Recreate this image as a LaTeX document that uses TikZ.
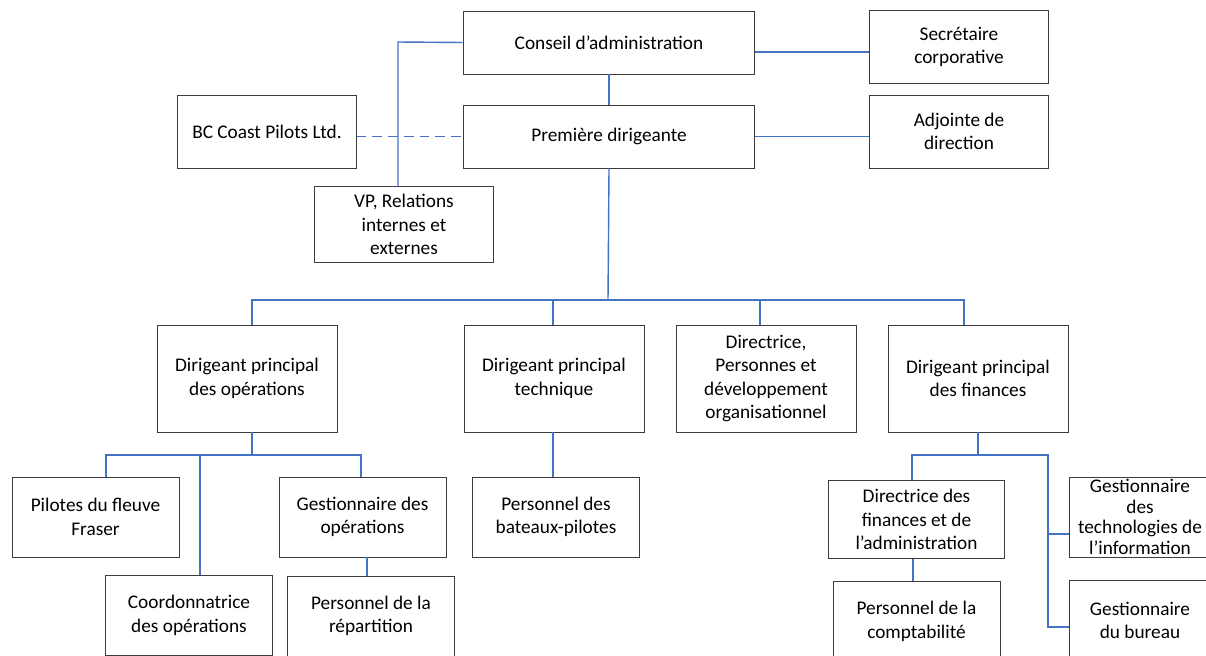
\documentclass[tikz,border=0pt]{standalone}
\usepackage{fontspec}
\setmainfont{Carlito}
\usetikzlibrary{positioning}

\definecolor{linkblue}{RGB}{68,114,196}
\definecolor{boxgray}{RGB}{60,60,60}

\tikzset{
  box/.style={draw=boxgray, line width=0.55pt, fill=white, align=center, inner sep=0pt,
              font=\fontsize{11}{13.4}\selectfont},
  topbox/.style={box, minimum width=166.4pt, minimum height=35.9pt},
  sidebox/.style={box, minimum width=101.5pt, minimum height=41.6pt},
  midbox/.style={box, minimum width=102.6pt, minimum height=61pt},
  lowbox/.style={box, minimum width=95.2pt, minimum height=45.6pt},
  link/.style={draw=linkblue, line width=0.8pt},
}

\begin{document}
\begin{tikzpicture}[x=0.57pt, y=-0.57pt]
  \useasboundingbox[fill=white] (0,0) rectangle (1206,655);

  % direction
  \node[topbox] (conseil) at (609,42.5) {Conseil d’administration};
  \node[topbox] (prem) at (609,136.5) {Première dirigeante};
  \node[sidebox] (secr) at (959,47) {Secrétaire\\corporative};
  \node[sidebox] (adj) at (959,131.5) {Adjointe de\\direction};
  \node[sidebox] (bcp) at (267,131.5) {BC Coast Pilots Ltd.};
  \node[sidebox, minimum height=42.8pt] (vp) at (404,224.5) {VP, Relations\\internes et\\externes};

  % dirigeants
  \node[midbox] (ops) at (247,378.5) {Dirigeant principal\\des opérations};
  \node[midbox] (tech) at (554,378.5) {Dirigeant principal\\technique};
  \node[midbox] (pdo) at (766,378.5) {Directrice,\\Personnes et\\développement\\organisationnel};
  \node[midbox] (fin) at (978,378.5) {Dirigeant principal\\des finances};

  % personnel
  \node[lowbox] (pilotes) at (95.5,517) {Pilotes du fleuve\\Fraser};
  \node[lowbox] (gestops) at (362.5,517) {Gestionnaire des\\opérations};
  \node[lowbox] (coord) at (189,615.5) {Coordonnatrice\\des opérations};
  \node[lowbox] (repart) at (371,616) {Personnel de la\\répartition};
  \node[lowbox] (bateaux) at (556,517) {Personnel des\\bateaux-pilotes};
  \node[lowbox, minimum width=99.8pt, minimum height=45pt] (dirfin) at (916.5,519.5)
       {Directrice des\\finances et de\\l’administration};
  \node[lowbox] (compta) at (916.5,621.5) {Personnel de la\\comptabilité};
  \node[lowbox, minimum width=80.9pt, font=\fontsize{11}{11.8}\selectfont] (gestti) at (1140,517)
       {Gestionnaire\\des\\technologies de\\l’information};
  \node[lowbox, minimum width=80.9pt] (bureau) at (1140,620.5) {Gestionnaire\\du bureau};

  % liens du haut
  \coordinate (vpknee) at (398,42);
  \coordinate (secrlink) at (755,52);
  \draw[link] (conseil.west) -- (vpknee) -- (vpknee |- vp.north);
  \draw[link] (conseil) -- (prem);
  \draw[link] (secrlink) -- (secrlink -| secr.west);
  \draw[link] (prem.east) -- (adj.west |- prem.east);
  \draw[link, dashed, dash pattern=on 5.5pt off 3.5pt] (bcp.east |- prem.west) -- (prem.west);

  % barre des dirigeants
  \coordinate (bus) at (608,300);
  \draw[link] (prem.south) -- (bus);
  \foreach \n/\x in {ops/252, tech/553, pdo/760, fin/964}{
    \coordinate (drop-\n) at (\x,300);
    \draw[link] (bus) -- (drop-\n) -- (drop-\n |- \n.north);
  }

  % operations
  \coordinate (opsbus) at (252,455);
  \draw[link] (opsbus |- ops.south) -- (opsbus);
  \foreach \n/\x in {pilotes/106, coord/200, gestops/361}{
    \coordinate (od-\n) at (\x,455);
    \draw[link] (opsbus) -- (od-\n) -- (od-\n |- \n.north);
  }
  \coordinate (repknee) at (367,500);
  \draw[link] (repknee |- gestops.south) -- (repknee |- repart.north);

  % technique
  \coordinate (techknee) at (553,450);
  \draw[link] (techknee |- tech.south) -- (techknee |- bateaux.north);

  % finances
  \coordinate (finbus) at (978,455);
  \coordinate (finleft) at (912,455);
  \coordinate (finright) at (1048,455);
  \draw[link] (finbus |- fin.south) -- (finbus);
  \draw[link] (finleft |- dirfin.north) -- (finleft) -- (finright) -- (finright |- 0,627) -- (bureau.west |- 0,627);
  \draw[link] (finright |- 0,534) -- (gestti.west |- 0,534);
  \coordinate (comptaknee) at (913,570);
  \draw[link] (comptaknee |- dirfin.south) -- (comptaknee |- compta.north);
\end{tikzpicture}
\end{document}
